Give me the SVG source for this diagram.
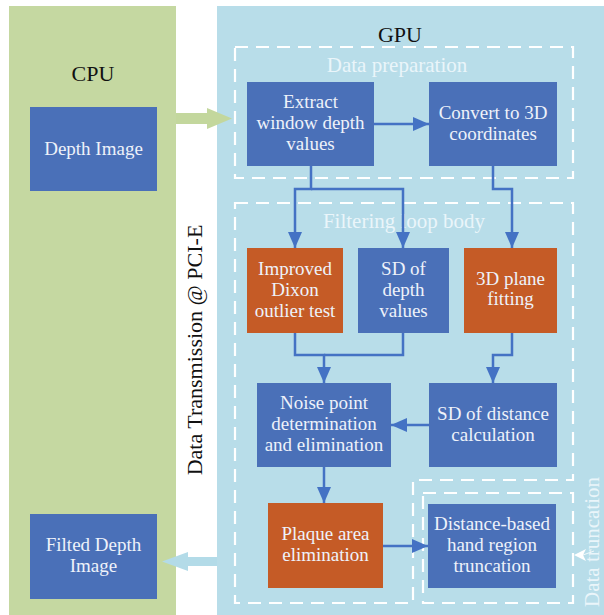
<svg xmlns="http://www.w3.org/2000/svg" width="604" height="615" viewBox="0 0 604 615">
<style>
.node{fill:#4a70b8;}
.orange{fill:#c55b26;}
.nt{font-family:"Liberation Serif","Times New Roman",serif;font-size:19px;fill:#eef2fa;text-anchor:middle;}
.title{font-family:"Liberation Serif","Times New Roman",serif;font-size:22px;fill:#111;text-anchor:middle;}
.lbl{font-family:"Liberation Serif","Times New Roman",serif;font-size:21px;fill:#eaf5fa;text-anchor:middle;}
.dash{fill:none;stroke:#ffffff;stroke-width:2.2;stroke-dasharray:13,8;}
.con{fill:none;stroke:#4472c4;stroke-width:2.5;}
</style>
<defs>
<marker id="ah" viewBox="0 0 16 14" refX="16" refY="7" markerWidth="16" markerHeight="14" markerUnits="userSpaceOnUse" orient="auto">
<path d="M0,0 L16,7 L0,14 z" fill="#4472c4"/>
</marker>
</defs>
<rect x="0" y="0" width="604" height="615" fill="#ffffff"/>
<g id="cpu-panel">
<rect x="9" y="6" width="167" height="609" fill="#c5d8a1"/>
<text class="title" x="93" y="81">CPU</text>
</g>
<g id="gpu-panel">
<rect x="217" y="6" width="387" height="609" fill="#b8dde9"/>
<text class="title" x="400" y="42">GPU</text>
</g>
<g id="transfer-arrows">
<polygon points="176,113 207,113 207,108 232,118.5 207,129 207,124 176,124" fill="#c3d79d"/>
<polygon points="217,557 188,557 188,552 162,561.5 188,571 188,566 217,566" fill="#b3dbe8"/>
</g>
<text class="title" x="0" y="0" transform="translate(202,350) rotate(-90)">Data Transmission @ PCI-E</text>
<g id="data-preparation">
<rect class="dash" x="235" y="47" width="338" height="131"/>
<text class="lbl" x="397" y="72">Data preparation</text>
</g>
<g id="filtering-loop-body">
<path class="dash" d="M235,203 H573 V480 H413 V603 H235 Z"/>
<text class="lbl" x="404" y="228">Filtering loop body</text>
</g>
<g id="data-truncation">
<rect class="dash" x="423" y="493" width="150" height="110"/>
<text class="lbl" x="0" y="0" font-size="20" transform="translate(599,542) rotate(-90)">Data truncation</text>
<line x1="583" y1="555" x2="594" y2="551" stroke="#ffffff" stroke-width="0.8"/>
<polygon points="574,555 586,549 583,555 586,561" fill="#ffffff"/>
</g>
<g id="connectors">
<path class="con" d="M374,124 H429" marker-end="url(#ah)"/>
<path class="con" d="M311,166 V189 H295 V248" marker-end="url(#ah)"/>
<path class="con" d="M311,189 H403 V248" marker-end="url(#ah)"/>
<path class="con" d="M493,166 V189 H512 V248" marker-end="url(#ah)"/>
<path class="con" d="M295,333 V355 H324 V383" marker-end="url(#ah)"/>
<path class="con" d="M403,333 V355 H324"/>
<path class="con" d="M512,333 V355 H493 V383" marker-end="url(#ah)"/>
<path class="con" d="M429,425 H391" marker-end="url(#ah)"/>
<path class="con" d="M324,467 V503" marker-end="url(#ah)"/>
<path class="con" d="M383,546 H428" marker-end="url(#ah)"/>
</g>
<g id="depth-image">
<rect class="node" x="30" y="107" width="127" height="84"/>
<text class="nt" x="93.5" y="155">Depth Image</text>
</g>
<g id="filted-depth-image">
<rect class="node" x="30" y="514" width="127" height="85"/>
<text class="nt" x="93.5" y="551">Filted Depth</text>
<text class="nt" x="93.5" y="572">Image</text>
</g>
<g id="extract">
<rect class="node" x="247" y="82" width="127" height="84"/>
<text class="nt" x="310.5" y="108">Extract</text>
<text class="nt" x="310.5" y="129">window depth</text>
<text class="nt" x="310.5" y="150">values</text>
</g>
<g id="convert">
<rect class="node" x="429" y="82" width="128" height="84"/>
<text class="nt" x="493" y="119">Convert to 3D</text>
<text class="nt" x="493" y="140">coordinates</text>
</g>
<g id="dixon">
<rect class="orange" x="247" y="248" width="96" height="85"/>
<text class="nt" x="295" y="275">Improved</text>
<text class="nt" x="295" y="296">Dixon</text>
<text class="nt" x="295" y="317">outlier test</text>
</g>
<g id="sd-depth">
<rect class="node" x="358" y="248" width="91" height="85"/>
<text class="nt" x="403.5" y="275">SD of</text>
<text class="nt" x="403.5" y="296">depth</text>
<text class="nt" x="403.5" y="317">values</text>
</g>
<g id="plane-fitting">
<rect class="orange" x="464" y="248" width="93" height="85"/>
<text class="nt" x="510.5" y="285">3D plane</text>
<text class="nt" x="510.5" y="305">fitting</text>
</g>
<g id="noise-point">
<rect class="node" x="257" y="383" width="134" height="84"/>
<text class="nt" x="324" y="409">Noise point</text>
<text class="nt" x="324" y="430">determination</text>
<text class="nt" x="324" y="451">and elimination</text>
</g>
<g id="sd-distance">
<rect class="node" x="429" y="383" width="128" height="84"/>
<text class="nt" x="493" y="420">SD of distance</text>
<text class="nt" x="493" y="441">calculation</text>
</g>
<g id="plaque">
<rect class="orange" x="268" y="503" width="115" height="85"/>
<text class="nt" x="325.5" y="540">Plaque area</text>
<text class="nt" x="325.5" y="561">elimination</text>
</g>
<g id="distance-truncation">
<rect class="node" x="428" y="504" width="128" height="84"/>
<text class="nt" x="492" y="530">Distance-based</text>
<text class="nt" x="492" y="551">hand region</text>
<text class="nt" x="492" y="572">truncation</text>
</g>
</svg>
